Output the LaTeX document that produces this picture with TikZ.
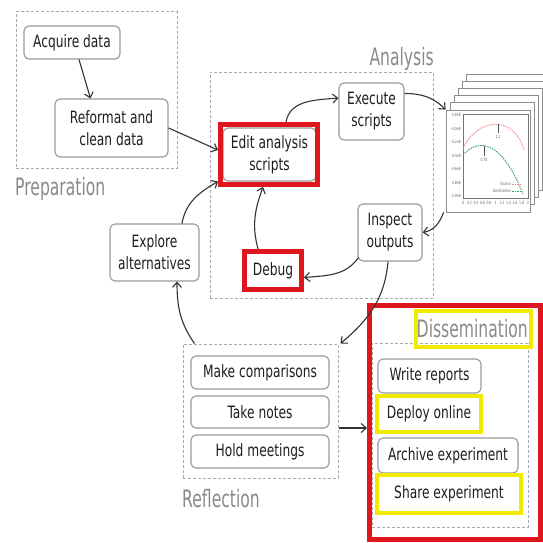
\documentclass[tikz,border=0pt]{standalone}
\usepackage{fontspec}
\setmainfont{DejaVu Sans}[FakeStretch=0.72]
\newfontfamily\lblfont{DejaVu Sans}[FakeStretch=0.65]
\usetikzlibrary{arrows.meta}
\definecolor{boxline}{HTML}{999999}
\definecolor{dashline}{HTML}{AAAAAA}
\definecolor{txt}{HTML}{1E1E1E}
\definecolor{lbl}{HTML}{8A8A8A}
\definecolor{hired}{HTML}{E0161E}
\definecolor{hiyel}{HTML}{F2EA00}
\definecolor{plred}{HTML}{EE8888}
\definecolor{plgreen}{HTML}{339966}
\tikzset{
  stepbox/.style={draw=boxline, line width=1.1pt, rounded corners=5pt, fill=white,
    text=txt, align=center, inner sep=0pt, font=\fontsize{17}{22}\selectfont},
  dashbox/.style={draw=dashline, line width=1pt, dash pattern=on 3pt off 2pt, inner sep=0pt},
  grouplabel/.style={text=lbl, inner sep=0pt, font=\lblfont\fontsize{24}{26}\selectfont},
  redframe/.style={draw=hired, line width=5pt, inner sep=0pt},
  yelframe/.style={draw=hiyel, line width=4pt, inner sep=0pt},
  conn/.style={draw=black!80, line width=1.1pt, -{Straight Barb[length=5pt,width=9pt]}},
  page/.style={draw=black!45, fill=white, line width=0.8pt, minimum width=84pt, minimum height=102pt, inner sep=0pt},
  tiny/.style={inner sep=0pt, text=black!60, font=\fontsize{4.3}{5}\selectfont}
}
\begin{document}
\begin{tikzpicture}[x=1pt,y=-1pt]
\useasboundingbox (0,0) rectangle (543,543);
\fill[white] (0,0) rectangle (543,543);

% group boxes
\node[dashbox, minimum width=161pt, minimum height=156pt] (prep) at (96.5,90) {};
\node[dashbox, minimum width=223pt, minimum height=226pt] (ana) at (321.5,185) {};
\node[dashbox, minimum width=155pt, minimum height=134pt] (refl) at (260.5,411) {};
\node[dashbox, minimum width=156pt, minimum height=184pt] (diss) at (450,435) {};

% group labels
\node[grouplabel, anchor=base west] (lprep) at (15,195) {Preparation};
\node[grouplabel, anchor=base east] (lana) at (434,65) {Analysis};
\node[grouplabel, anchor=base west] (lrefl) at (182,507) {Reflection};
\node[grouplabel, anchor=base east] (ldiss) at (528,337) {Dissemination};

% steps
\node[stepbox, minimum width=96pt, minimum height=33pt] (acq) at (72,42.5) {Acquire data};
\node[stepbox, minimum width=113pt, minimum height=58pt] (ref) at (111.5,128) {Reformat and\\clean data};
\node[stepbox, minimum width=93pt, minimum height=53pt] (edit) at (269.5,154.5) {Edit analysis\\scripts};
\node[stepbox, minimum width=65pt, minimum height=57pt] (exec) at (371.5,111.5) {Execute\\scripts};
\node[stepbox, minimum width=64pt, minimum height=57pt] (insp) at (390,232.5) {Inspect\\outputs};
\node[stepbox, rounded corners=0pt, minimum width=57pt, minimum height=38pt] (debug) at (273,270.5) {Debug};
\node[stepbox, minimum width=89pt, minimum height=57pt] (expl) at (154.5,252.5) {Explore\\alternatives};
\node[stepbox, minimum width=138pt, minimum height=33pt] (make) at (260,372.5) {Make comparisons};
\node[stepbox, minimum width=138pt, minimum height=32pt] (take) at (260,412) {Take notes};
\node[stepbox, minimum width=138pt, minimum height=33pt] (hold) at (260,451.5) {Hold meetings};
\node[stepbox, minimum width=103pt, minimum height=34pt] (write) at (429.5,376) {Write reports};
\node[stepbox, rounded corners=0pt, minimum width=104pt, minimum height=36pt] (deploy) at (429,414) {Deploy online};
\node[stepbox, minimum width=140pt, minimum height=35pt] (archive) at (448,455.5) {Archive experiment};
\node[stepbox, rounded corners=0pt, minimum width=144pt, minimum height=38pt] (share) at (449,494) {Share experiment};

% plot stack
\foreach \k in {5,4,3,2,1} {
  \node[page] (pg\k) at ({488+4*\k},{161-7.2*\k}) {};
}
\node[page] (plot) at (488,161) {};
\draw[black!55, line width=0.5pt] (463,114) rectangle (528,198);
\foreach \v [count=\i] in {-3.8e8,-4.0e8,-4.2e8,-4.4e8,-4.6e8,-4.8e8,-5.0e8} {
  \node[tiny, anchor=east] (yl\i) at (461,{115+13.5*(\i-1)}) {\v};
}
\foreach \v [count=\i] in {0,0.2,0.4,0.6,0.8,1,1.2,1.4,1.6,1.8,2} {
  \node[tiny, anchor=north] (xl\i) at ({463+6.5*(\i-1)},201) {\v};
}
\draw[plred, line width=0.9pt, dash pattern=on 1.5pt off 1pt] (463,148) .. controls (480,116) and (514,116) .. (524,150);
\draw[plgreen, line width=0.9pt, dash pattern=on 1.5pt off 1pt] (463,155) .. controls (476,140) and (500,136) .. (523,194);
\draw[black!70, line width=0.5pt] (498,133) -- (498,124);
\node[tiny] (a11) at (498,137) {1.1};
\draw[black!70, line width=0.5pt] (484,156) -- (484,146);
\node[tiny] (a070) at (484,160) {0.70};
\node[tiny, anchor=east] (lsrc) at (511,184) {Source};
\draw[plred, line width=0.8pt, dash pattern=on 1.5pt off 1pt] (512,184) -- (521,184);
\node[tiny, anchor=east] (ldst) at (511,191) {Destination};
\draw[plgreen, line width=0.8pt, dash pattern=on 1.5pt off 1pt] (512,191) -- (521,191);

% highlight frames
\node[redframe, minimum width=97pt, minimum height=60pt] (editR) at (269,154.5) {};
\node[redframe, minimum width=57pt, minimum height=38pt] (debugR) at (273,270.5) {};
\node[redframe, minimum width=171pt, minimum height=234pt] (dissR) at (455,422.5) {};
\node[yelframe, minimum width=115pt, minimum height=36pt] (dissY) at (473.5,329) {};
\node[yelframe, minimum width=104pt, minimum height=36pt] (deployY) at (429,414) {};
\node[yelframe, minimum width=144pt, minimum height=38pt] (shareY) at (449,494) {};

% connectors
\draw[conn] ([xshift=7pt]acq.south) -- ([xshift=-21pt]ref.north);
\draw[conn] (ref.east) -- ([yshift=4.5pt]editR.west);
\draw[conn] ([xshift=27.5pt]expl.north) to[out=80, in=210] ([yshift=-27pt]editR.west);
\draw[conn] ([xshift=17pt]editR.north) to[out=80, in=185] ([yshift=13.5pt]exec.west);
\draw[conn] ([yshift=18pt]exec.east) to[out=0, in=135] (plot.north west);
\draw[conn] ([xshift=-2pt]plot.south west) to[out=250, in=10] (insp.east);
\draw[conn] ([xshift=1pt,yshift=4pt]insp.south west) to[out=235, in=5] ([yshift=-7pt]debugR.east);
\draw[conn] ([xshift=-15pt]debugR.north) to[out=105, in=250] ([xshift=-6pt]editR.south);
\draw[conn] ([xshift=-2pt]insp.south) to[out=-95, in=40] ([xshift=2pt]refl.north east);
\draw[conn] ([xshift=12pt]refl.north west) to[out=125, in=270] ([xshift=22.5pt]expl.south);
\draw[conn] ([yshift=-17pt]refl.east) -- ([yshift=-5.5pt]dissR.west);
\end{tikzpicture}
\end{document}
